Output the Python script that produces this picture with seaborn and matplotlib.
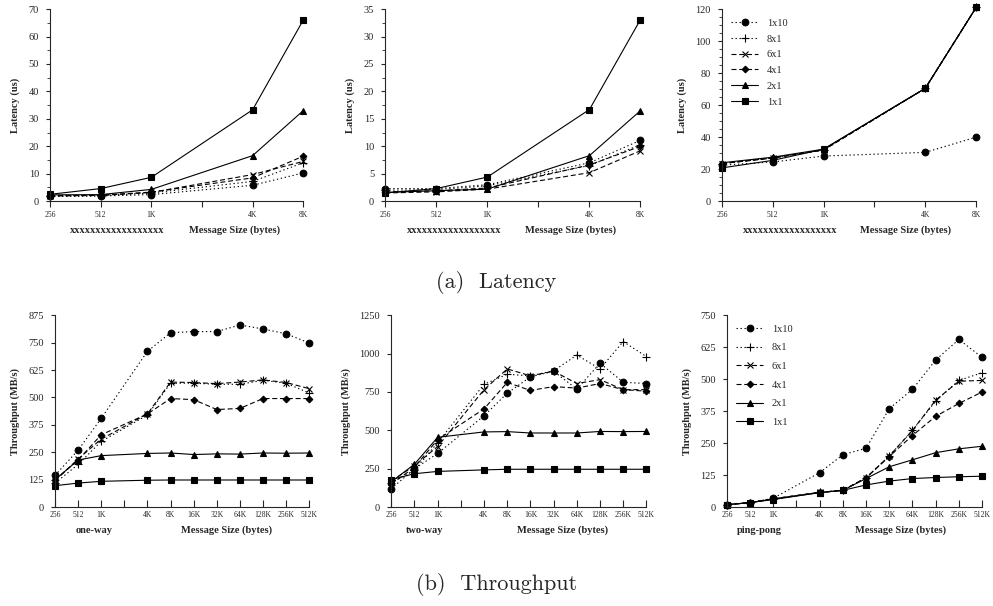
import numpy as np
import pandas as pd
import seaborn as sns
import matplotlib.pyplot as plt
from matplotlib.ticker import FixedLocator, NullLocator, AutoMinorLocator

sns.set_style("ticks")
plt.rcParams['font.family'] = ['Liberation Serif', 'DejaVu Serif']

# message sizes (bytes)
lat_sizes = [256, 512, 1024, 4096, 8192]
thr_sizes = [256, 512, 1024, 4096, 8192, 16384, 32768, 65536, 131072, 262144, 524288]
lat_ticks = [256, 512, 1024, 2048, 4096, 8192]
lat_ticklabels = ["256", "512", "1K", "", "4K", "8K"]
thr_ticks = [256, 512, 1024, 2048, 4096, 8192, 16384, 32768, 65536, 131072, 262144, 524288]
thr_ticklabels = ["256", "512", "1K", "", "4K", "8K", "16K", "32K", "64K", "128K", "256K", "512K"]

series = ["1x10", "8x1", "6x1", "4x1", "2x1", "1x1"]

# latency (us) - panel 1
lat1 = {
    "1x10": [1.8, 1.9, 2.4, 5.8, 10.3],
    "8x1": [1.8, 2.0, 3.0, 7.2, 14.0],
    "6x1": [1.9, 2.1, 3.2, 9.7, 14.5],
    "4x1": [2.0, 2.2, 3.3, 8.5, 16.4],
    "2x1": [2.3, 2.4, 4.3, 16.6, 33.0],
    "1x1": [2.5, 4.6, 8.7, 33.3, 66.0],
}
# latency (us) - panel 2
lat2 = {
    "1x10": [2.3, 2.3, 3.0, 7.0, 11.1],
    "8x1": [2.0, 2.1, 2.8, 6.5, 10.3],
    "6x1": [1.5, 1.7, 2.2, 5.2, 9.2],
    "4x1": [1.7, 1.9, 2.4, 6.6, 10.0],
    "2x1": [1.6, 1.9, 2.2, 8.3, 16.5],
    "1x1": [1.5, 2.3, 4.4, 16.7, 33.1],
}
# latency (us) - panel 3
lat3 = {
    "1x10": [22.5, 24.5, 28.2, 30.5, 40.0],
    "8x1": [23.5, 27.0, 32.0, 70.5, 121.0],
    "6x1": [23.5, 27.0, 32.0, 70.5, 121.0],
    "4x1": [23.5, 27.0, 32.0, 70.5, 121.0],
    "2x1": [24.0, 27.5, 32.5, 70.5, 121.0],
    "1x1": [20.8, 25.5, 32.5, 70.5, 121.0],
}
# throughput (MB/s) - one-way
thr1 = {
    "1x10": [145, 260, 405, 710, 795, 800, 800, 830, 812, 790, 748],
    "8x1": [110, 195, 300, 420, 565, 565, 560, 560, 578, 565, 520],
    "6x1": [120, 220, 310, 425, 570, 568, 563, 570, 580, 568, 540],
    "4x1": [125, 215, 330, 425, 495, 490, 445, 450, 495, 495, 495],
    "2x1": [125, 215, 235, 245, 247, 240, 243, 242, 247, 246, 247],
    "1x1": [98, 110, 118, 123, 124, 124, 124, 124, 124, 124, 124],
}
# throughput (MB/s) - two-way
thr2 = {
    "1x10": [120, 250, 350, 595, 742, 848, 885, 768, 937, 813, 805],
    "8x1": [160, 240, 420, 800, 865, 855, 888, 990, 900, 1078, 980],
    "6x1": [170, 270, 395, 765, 900, 855, 885, 805, 830, 765, 765],
    "4x1": [150, 260, 440, 640, 812, 760, 785, 775, 805, 765, 755],
    "2x1": [165, 280, 455, 490, 492, 483, 483, 483, 493, 492, 493],
    "1x1": [180, 218, 233, 243, 247, 247, 247, 247, 247, 247, 247],
}
# throughput (MB/s) - ping-pong
thr3 = {
    "1x10": [10, 18, 35, 135, 205, 230, 385, 460, 575, 655, 585],
    "8x1": [10, 18, 33, 58, 66, 115, 200, 300, 415, 495, 525],
    "6x1": [10, 18, 33, 58, 66, 115, 200, 300, 418, 492, 495],
    "4x1": [10, 18, 33, 58, 66, 115, 198, 280, 355, 405, 450],
    "2x1": [10, 18, 32, 57, 66, 112, 158, 185, 213, 228, 238],
    "1x1": [10, 18, 30, 57, 66, 87, 102, 112, 116, 119, 121],
}

styles = {
    "1x10": dict(marker="o", dashes=(1.2, 2.4)),
    "8x1": dict(marker="+", dashes=(1.2, 2.4)),
    "6x1": dict(marker="x", dashes=(4.5, 2.5)),
    "4x1": dict(marker="D", dashes=(4.5, 2.5)),
    "2x1": dict(marker="^", dashes=None),
    "1x1": dict(marker="s", dashes=None),
}
msize = {"o": 4.8, "+": 5.8, "x": 4.8, "D": 3.4, "^": 4.8, "s": 4.8}

fig = plt.figure(figsize=(9.93, 6.06), dpi=100)


def draw(rect, sizes, data, ticks, ticklabels, yticks, ylabel, xname, xname_x, msg_x, lab_y,
         minor=None, legend=False, xdir="out", legspace=0.62):
    ax = fig.add_axes(rect)
    for s in series:
        st = styles[s]
        kw = dict(color="k", lw=0.8, marker=st["marker"], markersize=msize[st["marker"]],
                  markeredgecolor="k", markerfacecolor="k", markeredgewidth=0.8, clip_on=False)
        sns.lineplot(x=sizes, y=data[s], ax=ax, label=s, **kw)
        if st["dashes"] is not None:
            ax.lines[-1].set_dashes(st["dashes"])
    ax.set_xscale("log", base=2)
    ax.set_xlim(sizes[0], ticks[-1])
    ax.xaxis.set_major_locator(FixedLocator(ticks))
    ax.set_xticklabels(ticklabels)
    ax.xaxis.set_minor_locator(NullLocator())
    ax.set_ylim(yticks[0], yticks[-1])
    ax.set_yticks(yticks)
    if minor:
        ax.yaxis.set_minor_locator(AutoMinorLocator(minor))
    if xdir == "out":
        ax.tick_params(axis="x", labelsize=5.5, length=4, width=0.8, direction="out", pad=3)
    else:
        ax.tick_params(axis="x", labelsize=5.5, length=5, width=0.8, direction="in", pad=3)
    ax.tick_params(axis="y", labelsize=7.5, length=3, width=0.8, direction="out", pad=5)
    ax.tick_params(axis="y", which="minor", length=2, width=0.6)
    ax.set_ylabel(ylabel, fontsize=7.5, fontweight="bold", labelpad=6)
    for sp in ["top", "right"]:
        ax.spines[sp].set_visible(False)
    for sp in ["left", "bottom"]:
        ax.spines[sp].set_linewidth(0.8)
    ax.text(xname_x, lab_y, xname, transform=ax.transAxes, ha="center", va="center",
            fontsize=7.5, fontweight="bold")
    ax.text(msg_x, lab_y, "Message Size (bytes)", transform=ax.transAxes, ha="center", va="center",
            fontsize=7.5, fontweight="bold")
    if legend:
        ax.legend(loc="upper left", bbox_to_anchor=(0.0, 1.0), frameon=False, fontsize=7.5,
                  handlelength=2.6, labelspacing=legspace, handletextpad=0.8)
    else:
        ax.get_legend().remove()
    return ax


xs = "xxxxxxxxxxxxxxxxxx"
draw([0.0504, 0.668, 0.255, 0.317], lat_sizes, lat1, lat_ticks, lat_ticklabels,
     list(range(0, 71, 10)), "Latency (us)", xs, 0.265, 0.727, -0.15, minor=2)
draw([0.388, 0.668, 0.257, 0.317], lat_sizes, lat2, lat_ticks, lat_ticklabels,
     list(range(0, 36, 5)), "Latency (us)", xs, 0.27, 0.725, -0.15, minor=2)
draw([0.727, 0.668, 0.256, 0.317], lat_sizes, lat3, lat_ticks, lat_ticklabels,
     list(range(0, 121, 20)), "Latency (us)", xs, 0.268, 0.724, -0.15, minor=4, legend=True)

draw([0.0554, 0.163, 0.256, 0.317], thr_sizes, thr1, thr_ticks, thr_ticklabels,
     list(range(0, 876, 125)), "Throughput (MB/s)", "one-way", 0.154, 0.673, -0.12, xdir="in")
draw([0.394, 0.163, 0.257, 0.317], thr_sizes, thr2, thr_ticks, thr_ticklabels,
     list(range(0, 1251, 250)), "Throughput (MB/s)", "two-way", 0.13, 0.67, -0.12, xdir="in")
draw([0.732, 0.163, 0.257, 0.317], thr_sizes, thr3, thr_ticks, thr_ticklabels,
     list(range(0, 751, 125)), "Throughput (MB/s)", "ping-pong", 0.126, 0.68, -0.12,
     legend=True, xdir="in", legspace=0.9)

fig.text(0.5, 1 - 282 / 606, "(a)  Latency", ha="center", va="center", fontsize=16, family="cmr10")
fig.text(0.5, 1 - 585 / 606, "(b)  Throughput", ha="center", va="center", fontsize=16, family="cmr10")

fig.savefig("out.png", dpi=100)
